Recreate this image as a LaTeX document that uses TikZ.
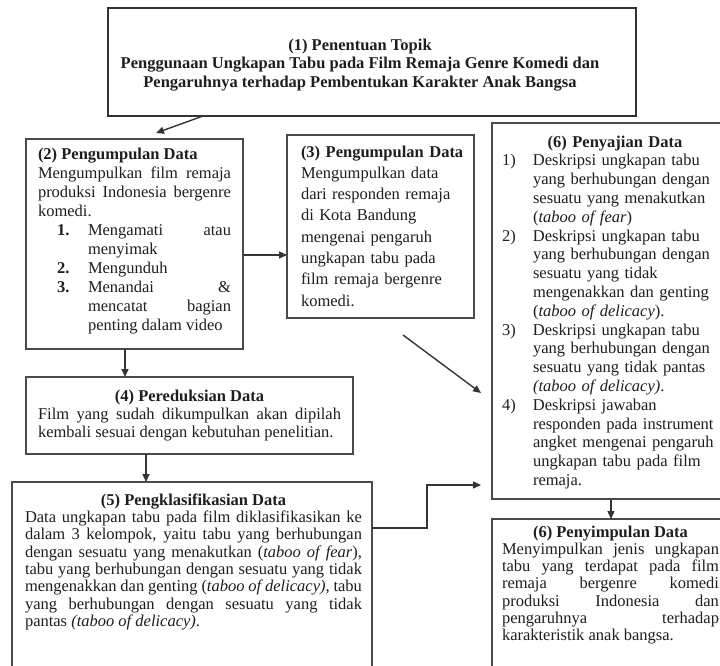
\documentclass[tikz,border=0pt]{standalone}
\usepackage{fontspec}
\setmainfont{Liberation Serif}
\usetikzlibrary{arrows.meta}
\definecolor{ink}{HTML}{1E1E1E}
\definecolor{edge}{HTML}{4A4A4A}
\begin{document}
\begin{tikzpicture}[x=1pt,y=-1pt,
  box/.style={draw=edge,line width=1.4pt,inner sep=0pt,outer sep=0pt,anchor=north west},
  txt/.style={inner sep=0pt,outer sep=0pt,anchor=north west,text=ink,
    execute at begin node={\parindent=0pt\parskip=0pt}},
  arr/.style={draw=edge!70!black,line width=1.4pt,-{Triangle[length=8pt,width=7pt]}}]
\useasboundingbox (0,0) rectangle (720,665);
\clip (0,0) rectangle (720,665);
\fill[white] (0,0) rectangle (720,665);

% boxes
\node[box,line width=2pt,draw=black!80,minimum width=528pt,minimum height=108pt] (b1) at (108,8) {};
\node[box,minimum width=217pt,minimum height=210pt] (b2) at (26,139) {};
\node[box,minimum width=187pt,minimum height=183pt] (b3) at (287,135) {};
\node[box,minimum width=327pt,minimum height=77pt] (b4) at (26,377) {};
\node[box,minimum width=360pt,minimum height=250pt] (b5) at (12,482) {};
\node[box,minimum width=235pt,minimum height=376pt] (b6) at (492,123) {};
\node[box,minimum width=235pt,minimum height=200pt] (b7) at (492,519) {};

% texts
\node[txt,anchor=north,align=center,font=\fontsize{16.5}{18.5}\selectfont\bfseries] (t1) at (360,38.6)
 {(1) Penentuan Topik\\Penggunaan Ungkapan Tabu pada Film Remaja Genre Komedi dan\\Pengaruhnya terhadap Pembentukan Karakter Anak Bangsa};

\node[txt,text width=193pt,align=justify,font=\fontsize{16.5}{19}\selectfont] (t2) at (38,147.6)
 {\textbf{(2) Pengumpulan Data}\\
 Mengumpulkan film remaja\linebreak produksi Indonesia bergenre\linebreak komedi.\par
 {\leftskip=50pt\noindent\llap{\makebox[31pt][l]{\textbf{1.}}}Mengamati atau\linebreak menyimak\par}
 {\leftskip=50pt\noindent\llap{\makebox[31pt][l]{\textbf{2.}}}Mengunduh\par}
 {\leftskip=50pt\noindent\llap{\makebox[31pt][l]{\textbf{3.}}}Menandai \&\linebreak mencatat bagian\linebreak penting dalam video\par}};

\node[txt,text width=172pt,align=left,font=\fontsize{16.5}{21.3}\selectfont] (t3) at (301,145.6)
 {\textbf{(3) Pengumpulan Data}\\Mengumpulkan data\\dari responden remaja\\di Kota Bandung\\mengenai pengaruh\\ungkapan tabu pada\\film remaja bergenre\\komedi.};

\node[txt,text width=303pt,align=justify,font=\fontsize{16.5}{18}\selectfont] (t4) at (38,389.6)
 {{\centering\textbf{(4) Pereduksian Data}\par}
 Film yang sudah dikumpulkan akan dipilah\linebreak kembali sesuai dengan kebutuhan penelitian.};

\node[txt,text width=337pt,align=justify,font=\fontsize{16.5}{17.3}\selectfont] (t5) at (25,493.6)
 {{\centering\textbf{(5) Pengklasifikasian Data}\par}
 Data ungkapan tabu pada film diklasifikasikan ke\linebreak
 dalam 3 kelompok, yaitu tabu yang berhubungan\linebreak
 dengan sesuatu yang menakutkan (\textit{taboo of fear}),\linebreak
 tabu yang berhubungan dengan sesuatu yang tidak\linebreak
 mengenakkan dan genting (\textit{taboo of delicacy)}, tabu\linebreak
 yang berhubungan dengan sesuatu yang tidak\linebreak
 pantas \textit{(taboo of delicacy)}.};

\node[txt,text width=226pt,align=left,font=\fontsize{16.5}{18.8}\selectfont] (t6) at (502,135.6)
 {{\centering\textbf{(6) Penyajian Data}\par}
 {\leftskip=31pt\noindent\llap{\makebox[31pt][l]{1)}}Deskripsi ungkapan tabu\\yang berhubungan dengan\\sesuatu yang menakutkan\\(\textit{taboo of fear})\par}
 {\leftskip=31pt\noindent\llap{\makebox[31pt][l]{2)}}Deskripsi ungkapan tabu\\yang berhubungan dengan\\sesuatu yang tidak\\mengenakkan dan genting\\(\textit{taboo of delicacy}).\par}
 {\leftskip=31pt\noindent\llap{\makebox[31pt][l]{3)}}Deskripsi ungkapan tabu\\yang berhubungan dengan\\sesuatu yang tidak pantas\\\textit{(taboo of delicacy)}.\par}
 {\leftskip=31pt\noindent\llap{\makebox[31pt][l]{4)}}Deskripsi jawaban\\responden pada instrument\\angket mengenai pengaruh\\ungkapan tabu pada film\\remaja.\par}};

\node[txt,text width=217pt,align=justify,font=\fontsize{16.5}{17.3}\selectfont] (t7) at (502,525.6)
 {{\centering\textbf{(6) Penyimpulan Data}\par}
 Menyimpulkan jenis ungkapan\linebreak tabu yang terdapat pada film\linebreak remaja bergenre komedi\linebreak produksi Indonesia dan\linebreak pengaruhnya terhadap\linebreak karakteristik anak bangsa.};

% connectors
\coordinate (e12) at (156,133);
\coordinate (d1) at (403,335);
\coordinate (d2) at (481,393);
\coordinate (e56) at (481,485);
\draw[arr] (b1.south -| 203,0) -- (e12);
\draw[arr] (b2.east |- 0,255) -- (b3.west |- 0,255);
\draw[arr] (b2.south -| 125,0) -- (b4.north -| 125,0);
\draw[arr] (d1) -- (d2);
\draw[arr] (b4.south -| 146,0) -- (b5.north -| 146,0);
\draw[arr] (b5.east |- 0,528) -| (427,485) -- (e56);
\draw[arr] (b6.south -| 611,0) -- (b7.north -| 611,0);
\end{tikzpicture}
\end{document}
